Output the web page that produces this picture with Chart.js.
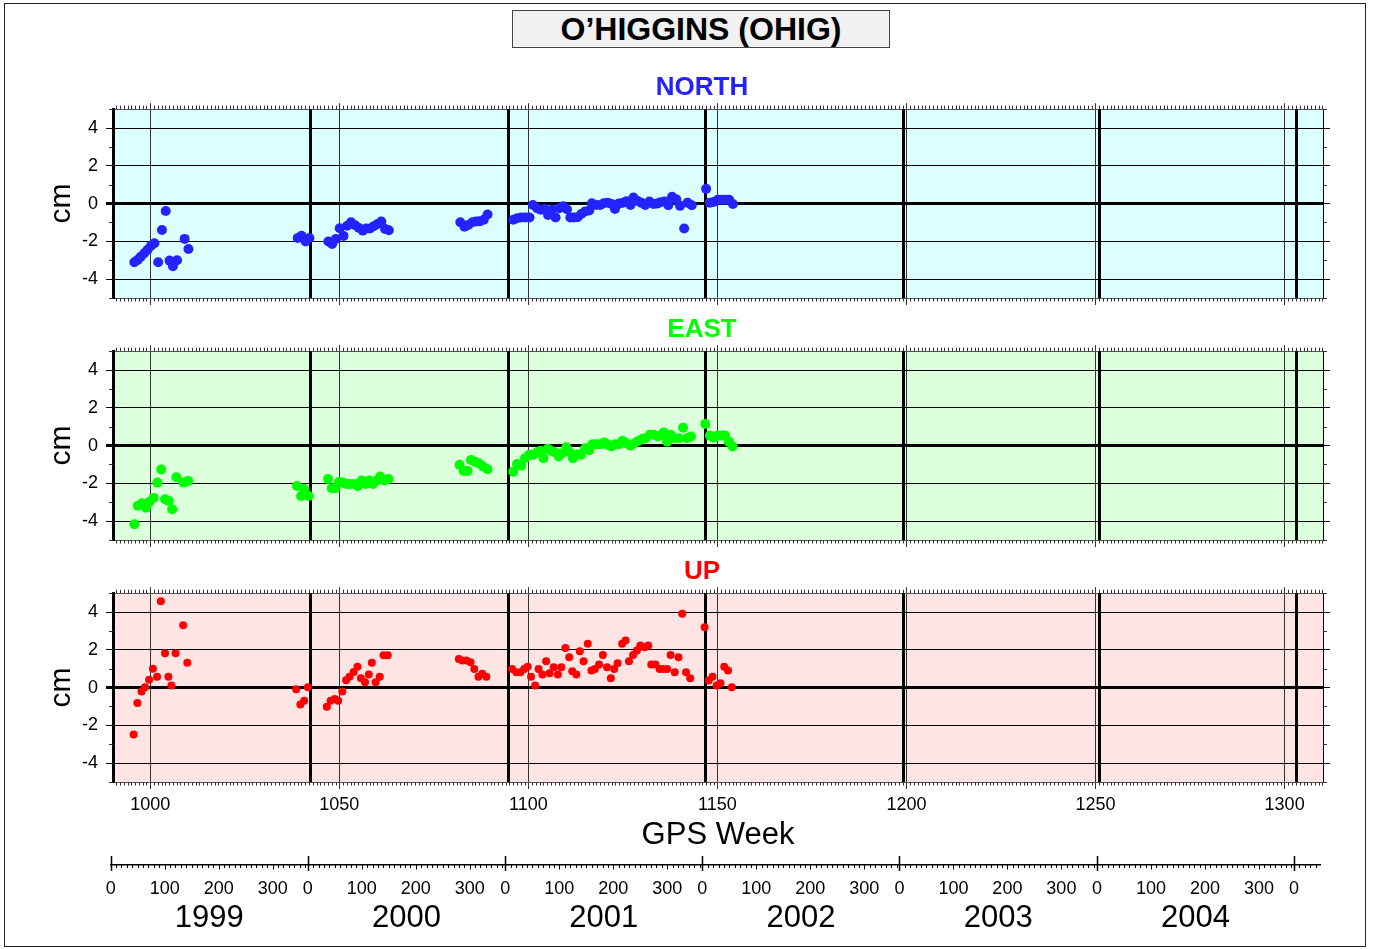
<!DOCTYPE html>
<html>
<head>
<meta charset="utf-8">
<title>O'HIGGINS (OHIG)</title>
<script src="https://cdn.jsdelivr.net/npm/chart.js@4.4.1/dist/chart.umd.min.js"></script>
<style>
body { margin: 0; background: #fff; }
#page { position: relative; width: 1375px; height: 949px; overflow: hidden; font-family: "Liberation Sans", Arial, sans-serif; }
#frame { position: absolute; left: 4px; top: 3px; width: 1362px; height: 944px; border: 1px solid #222; box-sizing: border-box; }
#titleBox { position: absolute; left: 512px; top: 10px; width: 378px; height: 38px; box-sizing: border-box;
  border: 1px solid #444; background: #f1f1f1; text-align: center; font-weight: bold; font-size: 32px; line-height: 37px; color: #000; }
canvas { position: absolute; }
</style>
</head>
<body>
<div id="page">
  <div id="frame"></div>
  <div id="titleBox">O’HIGGINS (OHIG)</div>
  <canvas id="north" width="1344" height="246" style="left:30px;top:72px"></canvas>
  <canvas id="east" width="1344" height="246" style="left:30px;top:314px"></canvas>
  <canvas id="up" width="1344" height="298" style="left:30px;top:556px"></canvas>
  <canvas id="years" width="1375" height="99" style="left:0px;top:850px"></canvas>
</div>
<script>
// GPS week range and ticks
var WEEK_MIN = 990.15;
var WEEK_MAX = 1310.15;
var weekTicks = [1000, 1050, 1100, 1150, 1200, 1250, 1300];
var yearStartWeeks = [990.2, 1042.3, 1094.7, 1146.8, 1199.1, 1251.0, 1303.1];
var cmTicks = [-4, -2, 0, 2, 4];
var cmMinorTicks = [-5, -3, -1, 1, 3, 5];

// lower calendar axis (days since 1 Jan 1999)
var yearLabels = ["1999", "2000", "2001", "2002", "2003", "2004"];
var yearStartDays = [0, 365, 731, 1096, 1461, 1827, 2192];
var dayOfYearTicks = [0, 100, 200, 300];
var DAY_MAX = 2241;

// NORTH
var northWeeks = [995.8, 996.7, 997.5, 998.4, 999.3, 1000.2, 1001.1, 1002.1, 1003.1, 1004.1, 1005.1, 1006.0, 1007.1, 1009.1, 1010.1,
    1039.0, 1040.0, 1041.1, 1042.1,
    1047.1, 1048.1, 1049.1, 1050.1, 1051.1, 1052.1, 1053.1, 1054.2, 1055.2, 1056.2, 1057.1, 1058.1, 1059.1, 1060.1, 1061.1, 1062.1, 1063.1,
    1082.0, 1083.1, 1084.1, 1085.2, 1086.2, 1087.1, 1088.2, 1089.2,
    1096.0, 1097.0, 1098.1, 1099.2, 1100.3, 1101.2, 1102.3, 1103.3, 1104.4, 1105.2, 1106.3, 1107.2, 1108.2, 1109.2, 1110.2, 1111.1,
    1112.0, 1113.0, 1114.0, 1115.0, 1116.1, 1116.8, 1117.9, 1119.0, 1119.9, 1121.0, 1122.0, 1122.9, 1123.9, 1125.0, 1125.9, 1127.0,
    1127.8, 1128.9, 1129.9, 1130.9, 1132.0, 1133.1, 1134.0, 1134.9, 1136.0, 1137.0, 1138.0, 1139.1, 1140.1, 1141.2, 1142.1, 1143.2,
    1147.0, 1148.0, 1149.0, 1150.1, 1151.1, 1152.2, 1153.1, 1154.1];
var northCm = [-3.11, -2.98, -2.81, -2.63, -2.44, -2.23, -2.10, -3.11, -1.40, -0.39, -3.02, -3.32, -3.00, -1.87, -2.40,
    -1.82, -1.70, -2.01, -1.82,
    -2.01, -2.14, -1.87, -1.31, -1.71, -1.17, -0.99, -1.15, -1.29, -1.43, -1.32, -1.32, -1.20, -1.08, -0.95, -1.34, -1.41,
    -0.99, -1.22, -1.13, -0.99, -0.95, -0.94, -0.86, -0.58,
    -0.86, -0.78, -0.74, -0.74, -0.74, -0.07, -0.25, -0.32, -0.28, -0.60, -0.33, -0.74, -0.25, -0.14, -0.30, -0.74,
    -0.74, -0.72, -0.55, -0.42, -0.37, 0.02, -0.07, -0.07, 0.02, 0.05, -0.02, -0.28, 0.00, 0.05, 0.12, -0.07,
    0.32, 0.14, 0.04, -0.07, 0.11, -0.02, 0.00, 0.07, 0.11, -0.09, 0.36, 0.23, -0.12, -1.32, 0.05, -0.09,
    0.78, 0.05, 0.09, 0.20, 0.20, 0.20, 0.20, -0.02];

// EAST
var eastWeeks = [995.8, 996.7, 997.8, 998.9, 999.8, 1000.9, 1001.9, 1002.9, 1003.9, 1004.9, 1005.8, 1006.9, 1008.8, 1010.0,
    1038.8, 1039.9, 1040.7, 1041.9,
    1047.0, 1048.0, 1049.0, 1049.9, 1051.0, 1051.9, 1052.9, 1054.0, 1054.9, 1055.9, 1056.9, 1057.9, 1058.9, 1059.9, 1060.8, 1061.9, 1063.0,
    1081.8, 1082.9, 1083.9, 1084.8, 1085.9, 1086.9, 1088.0, 1089.2,
    1096.0, 1097.0, 1098.1, 1099.1, 1100.2, 1101.2, 1102.3, 1103.2, 1104.0, 1105.1, 1106.0, 1107.0, 1108.0, 1108.9, 1110.0, 1110.9,
    1111.8, 1112.9, 1113.9, 1115.0, 1116.1, 1116.9, 1118.0, 1119.0, 1120.1, 1121.0, 1122.0, 1122.9, 1124.0, 1124.9, 1125.9, 1127.0,
    1128.0, 1129.1, 1130.2, 1131.0, 1132.1, 1133.1, 1134.2, 1135.3, 1135.8, 1136.7, 1137.6, 1138.5, 1139.8, 1140.9, 1141.9, 1143.0,
    1146.8, 1148.0, 1149.0, 1150.1, 1151.1, 1152.0, 1153.0, 1154.0];
var eastCm = [-4.17, -3.18, -3.06, -3.29, -2.97, -2.77, -1.96, -1.27, -2.84, -2.93, -3.37, -1.68, -1.96, -1.87,
    -2.14, -2.67, -2.30, -2.67,
    -1.77, -2.26, -2.26, -1.93, -1.96, -2.03, -2.03, -2.03, -2.15, -1.85, -2.03, -1.85, -2.03, -1.85, -1.64, -1.85, -1.77,
    -1.02, -1.34, -1.34, -0.76, -0.85, -0.94, -1.11, -1.25,
    -1.38, -0.97, -1.06, -0.67, -0.49, -0.49, -0.35, -0.28, -0.67, -0.17, -0.28, -0.35, -0.58, -0.41, -0.09, -0.35,
    -0.67, -0.46, -0.49, -0.14, -0.25, 0.07, 0.07, 0.07, 0.17, 0.04, -0.05, 0.07, 0.07, 0.25, 0.12, 0.00,
    0.12, 0.25, 0.36, 0.39, 0.57, 0.57, 0.48, 0.57, 0.70, 0.21, 0.57, 0.39, 0.39, 0.95, 0.39, 0.48,
    1.15, 0.53, 0.42, 0.53, 0.53, 0.53, 0.21, -0.05];

// UP
var upWeeks = [995.6, 996.6, 997.7, 998.6, 999.7, 1000.7, 1001.8, 1002.8, 1003.9, 1004.8, 1005.6, 1006.7, 1008.7, 1009.8,
    1038.6, 1039.7, 1040.7, 1041.7,
    1046.7, 1047.7, 1048.8, 1049.7, 1050.8, 1051.8, 1052.7, 1053.8, 1054.8, 1055.7, 1056.8, 1057.8, 1058.6, 1059.6, 1060.7, 1061.7, 1062.8,
    1081.6, 1082.5, 1083.6, 1084.7, 1085.7, 1086.8, 1087.8, 1088.9,
    1095.7, 1096.8, 1097.9, 1098.9, 1099.8, 1100.7, 1101.8, 1102.7, 1103.7, 1104.7, 1105.6, 1106.7, 1107.8, 1108.7, 1109.8, 1110.8,
    1111.6, 1112.7, 1113.6, 1114.6, 1115.7, 1116.7, 1117.6, 1118.7, 1119.7, 1120.8, 1121.8, 1122.7, 1123.6, 1124.8, 1125.7, 1126.6,
    1127.7, 1128.7, 1129.6, 1130.8, 1131.7, 1132.5, 1133.6, 1134.7, 1135.6, 1136.7, 1137.6, 1138.7, 1139.7, 1140.7, 1141.7, 1142.8,
    1146.6, 1147.7, 1148.7, 1149.8, 1150.8, 1151.8, 1152.8, 1153.8];
var upCm = [-2.49, -0.81, -0.20, 0.02, 0.41, 1.00, 0.58, 4.57, 1.82, 0.58, 0.11, 1.82, 3.30, 1.31,
    -0.09, -0.90, -0.69, 0.02,
    -1.01, -0.69, -0.60, -0.69, -0.20, 0.39, 0.58, 0.83, 1.11, 0.49, 0.28, 0.69, 1.31, 0.28, 0.58, 1.71, 1.71,
    1.52, 1.43, 1.43, 1.34, 0.99, 0.58, 0.73, 0.58,
    0.99, 0.81, 0.81, 0.99, 1.11, 0.58, 0.11, 0.99, 0.69, 1.39, 0.76, 1.08, 0.69, 1.08, 2.10, 1.61,
    0.86, 0.69, 1.92, 1.39, 2.32, 0.90, 0.99, 1.22, 1.73, 1.08, 0.49, 0.99, 1.29, 2.32, 2.49, 1.39,
    1.73, 1.96, 2.23, 2.14, 2.23, 1.22, 1.22, 0.99, 0.99, 0.99, 1.73, 0.81, 1.61, 3.91, 0.81, 0.49,
    3.20, 0.37, 0.58, 0.11, 0.23, 1.11, 0.90, 0.02];

var FONT = "'Liberation Sans', Arial, sans-serif";
Chart.defaults.font.family = FONT;
Chart.defaults.color = "#000";

function toTicks(list) {
    return list.map(function (v) { return {value: v}; });
}

// background, year boundaries and minor tick marks of one panel
var panelDecor = {
    id: "decor",
    beforeDraw: function (chart, args, opts) {
        var a = chart.chartArea, ctx = chart.ctx;
        ctx.save();
        ctx.fillStyle = opts.bg;
        ctx.fillRect(a.left, a.top, a.right - a.left, a.bottom - a.top);
        ctx.restore();
    },
    beforeDatasetsDraw: function (chart) {
        var a = chart.chartArea, ctx = chart.ctx, x = chart.scales.x;
        ctx.save();
        ctx.strokeStyle = "#000";
        ctx.lineWidth = 3;
        yearStartWeeks.forEach(function (w) {
            if (w <= x.min || w >= x.max) return;
            var px = Math.round(x.getPixelForValue(w)) + 0.5;
            ctx.beginPath();
            ctx.moveTo(px, a.top);
            ctx.lineTo(px, a.bottom);
            ctx.stroke();
        });
        ctx.restore();
    },
    afterDraw: function (chart) {
        var a = chart.chartArea, ctx = chart.ctx, x = chart.scales.x, y = chart.scales.y;
        ctx.save();
        ctx.strokeStyle = "#333";
        ctx.lineWidth = 1;
        ctx.beginPath();
        for (var w = Math.ceil(x.min); w <= x.max; w++) {
            if (w % 50 === 0) continue;
            var px = Math.round(x.getPixelForValue(w)) + 0.5;
            ctx.moveTo(px, a.top - 3.5);
            ctx.lineTo(px, a.top);
            ctx.moveTo(px, a.bottom);
            ctx.lineTo(px, a.bottom + 3.5);
        }
        cmMinorTicks.forEach(function (v) {
            var py = Math.round(y.getPixelForValue(v)) + 0.5;
            ctx.moveTo(a.left - 4, py);
            ctx.lineTo(a.left, py);
            ctx.moveTo(a.right, py);
            ctx.lineTo(a.right + 4, py);
        });
        ctx.stroke();
        ctx.restore();
    }
};

function makePanel(id, title, color, bg, weeks, values, radius, bottom) {
    var points = weeks.map(function (w, i) { return {x: w, y: values[i]}; });
    return new Chart(document.getElementById(id), {
        type: "scatter",
        data: {
            datasets: [{
                data: points,
                pointRadius: radius,
                pointHoverRadius: radius,
                pointBackgroundColor: color,
                pointBorderWidth: 0,
                showLine: false
            }]
        },
        plugins: [panelDecor],
        options: {
            responsive: false,
            animation: false,
            events: [],
            layout: {padding: 0},
            plugins: {
                legend: {display: false},
                tooltip: {enabled: false},
                decor: {bg: bg},
                title: {
                    display: true,
                    text: title,
                    color: color,
                    font: {family: FONT, size: 26, weight: "bold"},
                    padding: {top: 0, bottom: 0}
                }
            },
            scales: {
                x: {
                    type: "linear",
                    position: "bottom",
                    min: WEEK_MIN,
                    max: WEEK_MAX,
                    afterBuildTicks: function (s) { s.ticks = toTicks(weekTicks); },
                    afterFit: function (s) { s.height = bottom ? 72 : 20; },
                    grid: {color: "#333", lineWidth: 1, tickLength: 7},
                    border: {display: true, color: "#555", width: 1},
                    ticks: {
                        display: bottom,
                        font: {size: 18},
                        padding: 5,
                        maxRotation: 0,
                        autoSkip: false,
                        callback: function (v) { return String(v); }
                    },
                    title: {display: bottom, text: "GPS Week", font: {size: 31}, padding: {top: 0, bottom: 0}}
                },
                xt: {
                    type: "linear",
                    position: "top",
                    min: WEEK_MIN,
                    max: WEEK_MAX,
                    afterBuildTicks: function (s) { s.ticks = toTicks(weekTicks); },
                    afterFit: function (s) { s.height = 6; },
                    grid: {drawOnChartArea: false, color: "#333", tickLength: 6},
                    border: {display: true, color: "#555", width: 1},
                    ticks: {display: false}
                },
                y: {
                    type: "linear",
                    position: "left",
                    min: -5,
                    max: 5,
                    afterBuildTicks: function (s) { s.ticks = toTicks(cmTicks); },
                    afterFit: function (s) { s.width = 83; },
                    grid: {
                        color: "#000",
                        lineWidth: function (c) { return c.tick && c.tick.value === 0 ? 3 : 1; },
                        tickLength: 7
                    },
                    border: {display: true, color: "#000", width: 3},
                    ticks: {font: {size: 18}, padding: 8},
                    title: {display: true, text: "cm", font: {size: 30}, padding: {top: 14, bottom: 0}}
                },
                yr: {
                    type: "linear",
                    position: "right",
                    min: -5,
                    max: 5,
                    afterBuildTicks: function (s) { s.ticks = toTicks(cmTicks); },
                    afterFit: function (s) { s.width = 51; },
                    grid: {drawOnChartArea: false, color: "#000", tickLength: 7},
                    border: {display: true, color: "#000", width: 1},
                    ticks: {display: false}
                }
            }
        }
    });
}

makePanel("north", "NORTH", "#2323ff", "#dcffff", northWeeks, northCm, 5, false);
makePanel("east", "EAST", "#00ff00", "#dcffdc", eastWeeks, eastCm, 5, false);
makePanel("up", "UP", "#ff0000", "#ffe4e4", upWeeks, upCm, 4, true);

// calendar axis: year boundaries, day-of-year ticks, year names
function yearStartFor(day) {
    var s = 0;
    yearStartDays.forEach(function (d) { if (d <= day) s = d; });
    return s;
}

var calendarTicks = {
    id: "calendarTicks",
    afterDraw: function (chart) {
        var a = chart.chartArea, ctx = chart.ctx, x = chart.scales.x;
        ctx.save();
        ctx.strokeStyle = "#000";
        ctx.lineWidth = 1;
        ctx.beginPath();
        for (var i = 0; i < yearStartDays.length; i++) {
            var s = yearStartDays[i];
            if (s > x.max) break;
            var end = i + 1 < yearStartDays.length ? yearStartDays[i + 1] : x.max + 1;
            for (var d = s + 10; d < end && d <= x.max; d += 10) {
                var px = Math.round(x.getPixelForValue(d)) + 0.5;
                var len = (d - s) % 100 === 0 ? 4.5 : 3;
                ctx.moveTo(px, a.bottom);
                ctx.lineTo(px, a.bottom + len);
            }
        }
        ctx.stroke();
        ctx.lineWidth = 1.5;
        ctx.beginPath();
        yearStartDays.forEach(function (s) {
            if (s > x.max) return;
            var px = Math.round(x.getPixelForValue(s)) + 0.5;
            ctx.moveTo(px, a.bottom - 9);
            ctx.lineTo(px, a.bottom + 6);
        });
        ctx.stroke();
        ctx.restore();
    }
};

var dayTickValues = [];
yearStartDays.forEach(function (s) {
    dayOfYearTicks.forEach(function (d) {
        if (s + d <= DAY_MAX) dayTickValues.push(s + d);
    });
});
var yearMidDays = yearLabels.map(function (y, i) {
    return (yearStartDays[i] + yearStartDays[i + 1]) / 2;
});

new Chart(document.getElementById("years"), {
    type: "scatter",
    data: {datasets: []},
    plugins: [calendarTicks],
    options: {
        responsive: false,
        animation: false,
        events: [],
        layout: {padding: {left: 110.7, right: 54.5, top: 6, bottom: 0}},
        plugins: {legend: {display: false}, tooltip: {enabled: false}},
        scales: {
            y: {display: false, min: 0, max: 1},
            x: {
                type: "linear",
                position: "bottom",
                min: 0,
                max: DAY_MAX,
                weight: 0,
                afterBuildTicks: function (s) { s.ticks = toTicks(dayTickValues); },
                afterFit: function (s) { s.height = 30; },
                grid: {display: false, drawTicks: false},
                border: {display: true, color: "#000", width: 1.5},
                ticks: {
                    font: {size: 18},
                    padding: 13,
                    maxRotation: 0,
                    autoSkip: false,
                    callback: function (v) { return String(v - yearStartFor(v)); }
                }
            },
            xy: {
                type: "linear",
                position: "bottom",
                min: 0,
                max: DAY_MAX,
                weight: 1,
                afterBuildTicks: function (s) { s.ticks = toTicks(yearMidDays); },
                afterFit: function (s) { s.height = 54; },
                grid: {display: false, drawTicks: false},
                border: {display: false},
                ticks: {
                    font: {size: 31},
                    padding: 5,
                    maxRotation: 0,
                    autoSkip: false,
                    callback: function (v, i) { return yearLabels[i]; }
                }
            }
        }
    }
});
</script>
</body>
</html>
